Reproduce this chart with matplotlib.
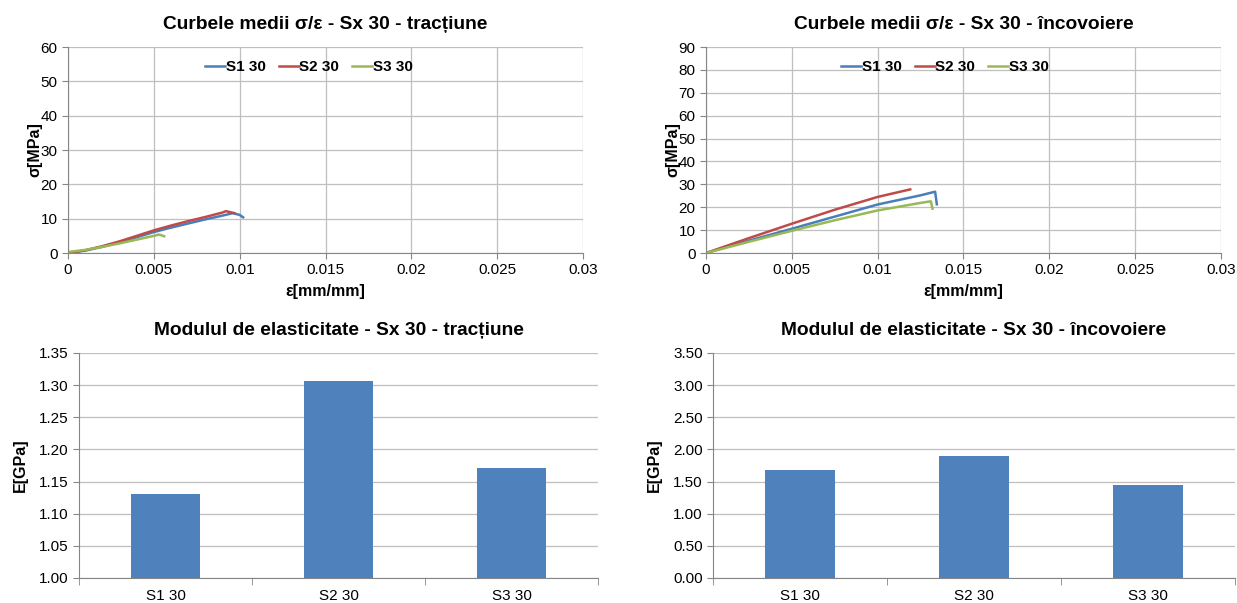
import numpy as np
import matplotlib
matplotlib.use("Agg")
import matplotlib.pyplot as plt

plt.rcParams['font.family'] = ['Liberation Sans', 'DejaVu Sans']

# curve data - tractiune
t_s1_eps = [0, 0.001, 0.002, 0.003, 0.004, 0.005, 0.006, 0.007, 0.008, 0.009, 0.0096, 0.0100, 0.0102]
t_s1_sig = [0, 0.7, 1.8, 3.1, 4.6, 6.1, 7.4, 8.6, 9.8, 10.9, 11.6, 11.1, 10.4]
t_s2_eps = [0, 0.001, 0.002, 0.003, 0.004, 0.005, 0.006, 0.007, 0.008, 0.009, 0.0092, 0.0097]
t_s2_sig = [0, 0.8, 2.0, 3.4, 5.0, 6.6, 8.0, 9.3, 10.5, 11.8, 12.2, 11.6]
t_s3_eps = [0, 0.001, 0.002, 0.003, 0.004, 0.005, 0.0053, 0.0056]
t_s3_sig = [0.3, 0.9, 1.8, 2.8, 3.9, 5.0, 5.4, 4.9]

# curve data - incovoiere
i_s1_eps = [0, 0.0025, 0.005, 0.0075, 0.01, 0.0125, 0.01335, 0.01345]
i_s1_sig = [0, 5.4, 10.6, 15.9, 21.2, 25.2, 26.8, 21.3]
i_s2_eps = [0, 0.0025, 0.005, 0.0075, 0.01, 0.0119]
i_s2_sig = [0, 6.5, 12.8, 18.9, 24.5, 27.8]
i_s3_eps = [0, 0.0025, 0.005, 0.0075, 0.01, 0.0125, 0.0131, 0.0132]
i_s3_sig = [0, 4.9, 9.7, 14.3, 18.6, 21.9, 22.6, 19.4]

# modulus data
categories = ["S1 30", "S2 30", "S3 30"]
E_tract = [1.131, 1.307, 1.171]
E_incov = [1.68, 1.89, 1.45]

c_blue = "#4A7EBB"
c_red = "#BE4B48"
c_green = "#98B954"
c_bar = "#4F81BD"
grid_c = "#BFBFBF"
axis_c = "#868686"

fig = plt.figure(figsize=(12.37, 6.03), dpi=100)

ax_tl = fig.add_axes([0.0550, 0.5804, 0.4163, 0.3416])
ax_tr = fig.add_axes([0.5707, 0.5804, 0.4163, 0.3416])
ax_bl = fig.add_axes([0.0639, 0.0415, 0.4196, 0.3731])
ax_br = fig.add_axes([0.5764, 0.0415, 0.4220, 0.3731])

TICK_FS = 11
LABEL_FS = 11.5
TITLE_FS = 13.8


def style_curve_ax(ax, ymax, ystep, title):
    ax.set_xlim(0, 0.03)
    ax.set_ylim(0, ymax)
    ax.set_xticks(np.arange(0, 0.0301, 0.005))
    ax.set_xticklabels(["0", "0.005", "0.01", "0.015", "0.02", "0.025", "0.03"])
    ax.set_yticks(np.arange(0, ymax + 0.1, ystep))
    ax.grid(True, color=grid_c, linewidth=0.9)
    ax.set_axisbelow(True)
    for s in ["top", "right"]:
        ax.spines[s].set_visible(False)
    for s in ["left", "bottom"]:
        ax.spines[s].set_color(axis_c)
    ax.tick_params(length=4, color=axis_c, labelsize=TICK_FS, direction="out")
    ax.set_xlabel("ε[mm/mm]", fontsize=LABEL_FS, fontweight="bold", labelpad=5)
    ax.set_ylabel("σ[MPa]", fontsize=LABEL_FS, fontweight="bold", labelpad=-1)
    ax.set_title(title, fontsize=TITLE_FS, fontweight="bold", pad=13)


def style_bar_ax(ax, ymin, ymax, ystep, title):
    ticks = np.arange(ymin, ymax + ystep / 2, ystep)
    ax.set_xlim(-0.5, 2.5)
    ax.set_ylim(ymin, ymax)
    ax.set_yticks(ticks)
    ax.set_yticklabels([f"{v:.2f}" for v in ticks])
    ax.set_xticks(range(len(categories)))
    ax.set_xticklabels(categories)
    ax.set_xticks([-0.5, 0.5, 1.5, 2.5], minor=True)
    ax.tick_params(axis="x", which="major", length=0, labelsize=TICK_FS, pad=8)
    ax.tick_params(axis="x", which="minor", length=5, color=axis_c)
    ax.tick_params(axis="y", length=4, color=axis_c, labelsize=TICK_FS)
    ax.yaxis.grid(True, color=grid_c, linewidth=0.9)
    ax.set_axisbelow(True)
    for s in ["top", "right"]:
        ax.spines[s].set_visible(False)
    for s in ["left", "bottom"]:
        ax.spines[s].set_color(axis_c)
    ax.set_ylabel("E[GPa]", fontsize=LABEL_FS, fontweight="bold", labelpad=8)
    ax.set_title(title, fontsize=TITLE_FS, fontweight="bold", pad=13)


# tractiune curves
ax_tl.plot(t_s1_eps, t_s1_sig, color=c_blue, lw=1.8, label="S1 30")
ax_tl.plot(t_s2_eps, t_s2_sig, color=c_red, lw=1.8, label="S2 30")
ax_tl.plot(t_s3_eps, t_s3_sig, color=c_green, lw=1.8, label="S3 30")
style_curve_ax(ax_tl, 60, 10, "Curbele medii σ/ε - Sx 30 - tracțiune")

# incovoiere curves
ax_tr.plot(i_s1_eps, i_s1_sig, color=c_blue, lw=1.8, label="S1 30")
ax_tr.plot(i_s2_eps, i_s2_sig, color=c_red, lw=1.8, label="S2 30")
ax_tr.plot(i_s3_eps, i_s3_sig, color=c_green, lw=1.8, label="S3 30")
style_curve_ax(ax_tr, 90, 10, "Curbele medii σ/ε - Sx 30 - încovoiere")

for ax, cx in ((ax_tl, 0.468), (ax_tr, 0.464)):
    ax.legend(loc="center", bbox_to_anchor=(cx, 0.903), ncol=3, frameon=False,
              handlelength=1.3, handletextpad=0.05, columnspacing=0.85,
              borderaxespad=0, prop={"weight": "bold", "size": 11})

# bars
ax_bl.bar(range(len(categories)), [v - 1.0 for v in E_tract], bottom=1.0, width=0.4, color=c_bar)
style_bar_ax(ax_bl, 1.0, 1.35, 0.05, "Modulul de elasticitate - Sx 30 - tracțiune")

ax_br.bar(range(len(categories)), E_incov, width=0.4, color=c_bar)
style_bar_ax(ax_br, 0.0, 3.5, 0.5, "Modulul de elasticitate - Sx 30 - încovoiere")

fig.savefig("out.png", dpi=100)
